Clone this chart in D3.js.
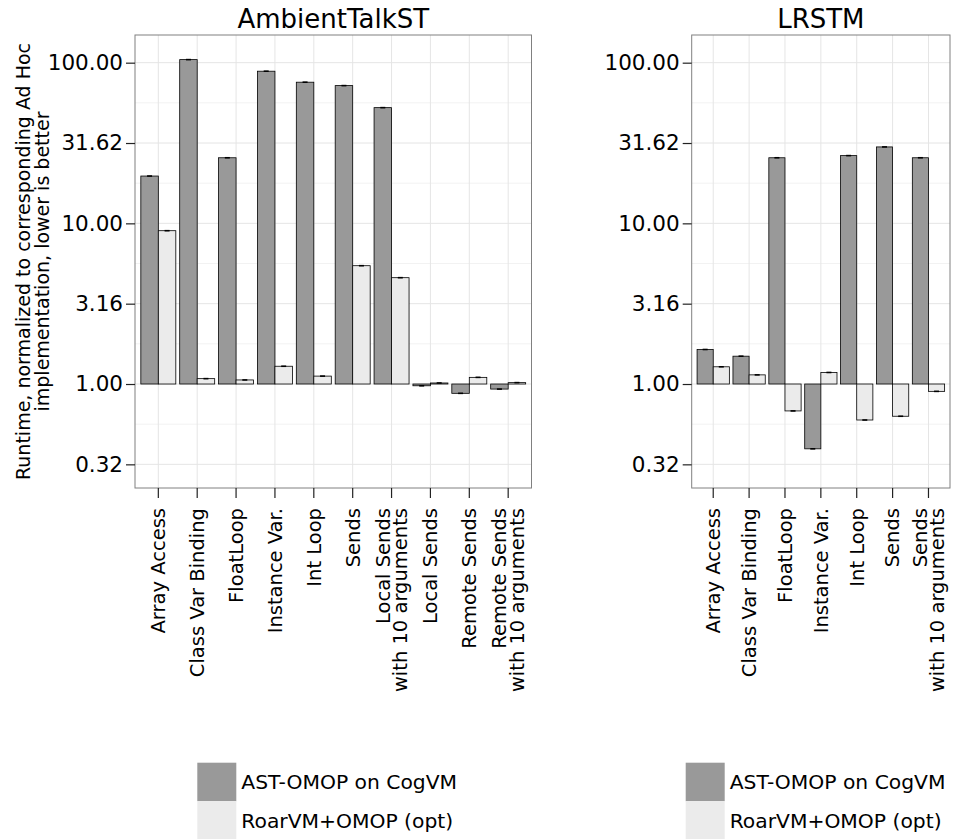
<!DOCTYPE html>
<html><head><meta charset="utf-8">
<script src="https://cdn.jsdelivr.net/npm/d3@7"></script>
<style>body{margin:0;background:#fff}svg{display:block}text{font-family:"DejaVu Sans",sans-serif;fill:#000}</style>
</head><body><svg id="c" width="966" height="839"></svg>
<script>
const series = ["AST-OMOP on CogVM", "RoarVM+OMOP (opt)"];
const seriesColors = ["#999999", "#ebebeb"];
const ambientCategories = ["Array Access","Class Var Binding","FloatLoop","Instance Var.","Int Loop","Sends","Local Sends\nwith 10 arguments","Local Sends","Remote Sends","Remote Sends\nwith 10 arguments"];
const ambientAST = [19.7, 104.5, 25.6, 88.5, 75.6, 72.0, 52.5, 0.975, 0.875, 0.93];
const ambientRoar = [9.0, 1.08, 1.06, 1.29, 1.12, 5.45, 4.59, 1.015, 1.10, 1.02];
const lrstmCategories = ["Array Access","Class Var Binding","FloatLoop","Instance Var.","Int Loop","Sends","Sends\nwith 10 arguments"];
const lrstmAST = [1.64, 1.49, 25.6, 0.395, 26.4, 29.9, 25.6];
const lrstmRoar = [1.28, 1.14, 0.68, 1.18, 0.597, 0.63, 0.90];
const yTicks = [0.316227766, 1, 3.16227766, 10, 31.6227766, 100];
const yTickLabels = ["0.32","1.00","3.16","10.00","31.62","100.00"];
const yMinor = [0.5623, 1.7783, 5.6234, 17.7828, 56.2341];
const yTitle = ["Runtime, normalized to corresponding Ad Hoc","implementation, lower is better"];

const svg = d3.select("#c");
const pTop = 35, pBottom = 488;
const y = d3.scaleLog().domain([0.2253, 148.7]).range([pBottom, pTop]);

function panel(title, cats, ast, roar, x0, x1, legendX) {
  const g = svg.append("g");
  const x = d3.scaleBand().domain(cats).range([x0, x1]).paddingInner(0).paddingOuter(0.1);
  const xs = d3.scaleBand().domain(series).range([x.bandwidth()*0.05, x.bandwidth()*0.95]);
  // grid
  g.selectAll(".ymin").data(yMinor).join("line")
    .attr("x1", x0).attr("x2", x1).attr("y1", d=>y(d)).attr("y2", d=>y(d))
    .attr("stroke", "#f2f2f2").attr("stroke-width", 1);
  g.selectAll(".ymaj").data(yTicks).join("line")
    .attr("x1", x0).attr("x2", x1).attr("y1", d=>y(d)).attr("y2", d=>y(d))
    .attr("stroke", "#e5e5e5").attr("stroke-width", 1);
  g.selectAll(".xmaj").data(cats).join("line")
    .attr("x1", d=>x(d)+x.bandwidth()/2).attr("x2", d=>x(d)+x.bandwidth()/2)
    .attr("y1", pTop).attr("y2", pBottom).attr("stroke", "#e5e5e5").attr("stroke-width", 1);
  // bars
  const rows = [];
  cats.forEach((c,i)=>{ rows.push({c, s:series[0], v:ast[i], col:seriesColors[0]}); rows.push({c, s:series[1], v:roar[i], col:seriesColors[1]}); });
  g.selectAll(".bar").data(rows).join("rect")
    .attr("x", d=>x(d.c)+xs(d.s)).attr("width", xs.bandwidth())
    .attr("y", d=>Math.min(y(d.v), y(1))).attr("height", d=>Math.abs(y(d.v)-y(1)))
    .attr("fill", d=>d.col).attr("stroke", "#000").attr("stroke-width", 0.8);
  g.selectAll(".err").data(rows).join("line")
    .attr("x1", d=>x(d.c)+xs(d.s)+xs.bandwidth()/2-2.5).attr("x2", d=>x(d.c)+xs(d.s)+xs.bandwidth()/2+2.5)
    .attr("y1", d=>y(d.v)).attr("y2", d=>y(d.v)).attr("stroke", "#000").attr("stroke-width", 1.6);
  // frame
  g.append("rect").attr("x", x0).attr("y", pTop).attr("width", x1-x0).attr("height", pBottom-pTop)
    .attr("fill", "none").attr("stroke", "#808080").attr("stroke-width", 1);
  // y axis
  const ya = g.append("g").attr("transform", `translate(${x0},0)`)
    .call(d3.axisLeft(y).tickValues(yTicks).tickFormat((d,i)=>yTickLabels[i]).tickSize(9).tickPadding(3));
  ya.select(".domain").remove();
  ya.selectAll("line").attr("stroke", "#222").attr("stroke-width", 1.2);
  ya.selectAll("text").style("font-size", "21.5px").attr("fill", "#000");
  // x axis
  const xa = g.append("g").attr("transform", `translate(0,${pBottom})`)
    .call(d3.axisBottom(x).tickSize(10).tickFormat(""));
  xa.select(".domain").remove();
  xa.selectAll("line").attr("stroke", "#222").attr("stroke-width", 1.2);
  cats.forEach(c=>{
    const lines = c.split("\n");
    const cx = x(c)+x.bandwidth()/2;
    const lh = 17.5;
    lines.forEach((ln, j)=>{
      const off = (j - (lines.length-1)/2)*lh;
      g.append("text").attr("transform", `translate(${cx+off},${pBottom+20}) rotate(-90)`)
        .attr("text-anchor", "end").attr("dy", "0.35em").style("font-size", "19.5px").text(ln);
    });
  });
  // title
  g.append("text").attr("x", (x0+x1)/2).attr("y", 28).attr("text-anchor", "middle")
    .style("font-size", "26px").text(title);
  // legend
  const ly = 762.7, kh = 38.5;
  series.forEach((s,i)=>{
    g.append("rect").attr("x", legendX).attr("y", ly+i*kh).attr("width", 39).attr("height", kh).attr("fill", seriesColors[i]);
    g.append("text").attr("x", legendX+44).attr("y", ly+i*kh+kh/2).attr("dy", "0.35em").style("font-size", "20.3px").text(s);
  });
}

panel("AmbientTalkST", ambientCategories, ambientAST, ambientRoar, 135, 531.5, 197.3);
panel("LRSTM", lrstmCategories, lrstmAST, lrstmRoar, 691.7, 950, 685.7);

// y axis title
yTitle.forEach((t,i)=>{
  svg.append("text").attr("transform", `translate(${23+i*19},${(pTop+pBottom)/2}) rotate(-90)`)
    .attr("text-anchor", "middle").attr("dy", "0.35em").style("font-size", "19px").text(t);
});
</script></body></html>
